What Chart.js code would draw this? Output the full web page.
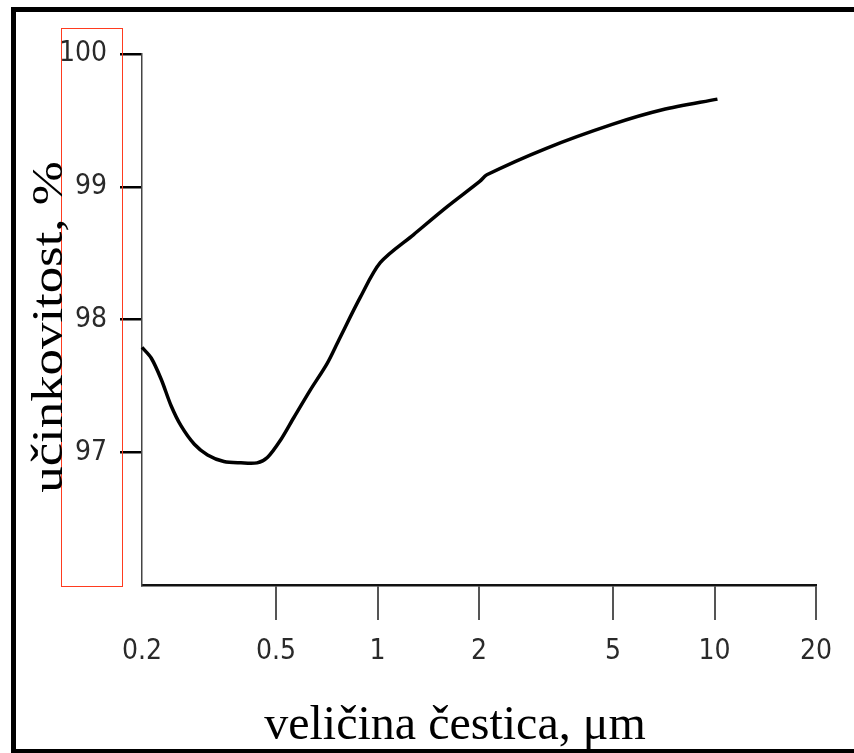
<!DOCTYPE html>
<html>
<head>
<meta charset="utf-8">
<title>učinkovitost, %</title>
<script src="https://cdn.jsdelivr.net/npm/chart.js@4.4.1/dist/chart.umd.min.js"></script>
<style>
  html, body { margin: 0; padding: 0; background: #fff; }
  #wrap { position: relative; width: 854px; height: 753px; overflow: hidden; background: #fff; }
  #chart { position: absolute; left: 0; top: 0; }
  #frame { position: absolute; left: 11px; top: 7px; width: 900px; height: 746px; box-sizing: border-box;
           border: 5px solid #000; border-right: none; border-bottom-width: 4px; pointer-events: none; }
  #redbox { position: absolute; left: 61px; top: 28px; width: 62px; height: 559px; box-sizing: border-box;
            border: 1.5px solid #ff3b1f; pointer-events: none; }
  .title { position: absolute; font-family: "Liberation Serif", "Times New Roman", serif; color: #000;
           line-height: 1; white-space: nowrap; }
  #ytitle { left: 48px; top: 327px; font-size: 44px; transform: translate(-50%, -50%) rotate(-90deg) scaleX(1.2); }
  #xtitle { left: 455px; top: 723px; font-size: 48px; transform: translate(-50%, -50%); }
</style>
</head>
<body>
<div id="wrap">
  <canvas id="chart" width="854" height="753"></canvas>
  <div id="redbox"></div>
  <div id="frame"></div>
  <div class="title" id="ytitle">učinkovitost, %</div>
  <div class="title" id="xtitle">veličina čestica, μm</div>
</div>
<script>
// --- data ---
const sizeTicks = [0.2, 0.5, 1, 2, 5, 10, 20];
const sizeTickLabels = ['0.2', '0.5', '1', '2', '5', '10', '20'];
const effTicks = [97, 98, 99, 100];

// particle size (µm) and efficiency (%) along the curve
const particleSize = [0.2, 0.213, 0.228, 0.244, 0.261, 0.286, 0.313, 0.350, 0.393, 0.439, 0.471, 0.515, 0.564, 0.632, 0.709, 0.769, 0.89, 1.02, 1.28, 1.61, 2.01, 2.11, 3.17, 4.97, 7.0, 10.2];
const efficiency   = [97.79, 97.71, 97.55, 97.35, 97.20, 97.06, 96.98, 96.93, 96.92, 96.92, 96.96, 97.09, 97.26, 97.47, 97.67, 97.85, 98.17, 98.43, 98.64, 98.85, 99.04, 99.09, 99.29, 99.47, 99.58, 99.66];

const tickFont = { family: '"DejaVu Sans Condensed", "Liberation Sans", sans-serif', size: 28 };

const points = particleSize.map((x, i) => ({ x: x, y: efficiency[i] }));

new Chart(document.getElementById('chart').getContext('2d'), {
    type: 'line',
    data: {
        datasets: [{
            data: points,
            borderColor: '#000',
            borderWidth: 3.5,
            pointRadius: 0,
            fill: false,
            tension: 0.3,
            clip: false
        }]
    },
    options: {
        responsive: false,
        animation: false,
        layout: { padding: { left: 0, top: 54, right: 38, bottom: 0 } },
        plugins: { legend: { display: false }, tooltip: { enabled: false } },
        scales: {
            x: {
                type: 'logarithmic',
                min: 0.2, max: 20,
                afterBuildTicks: (s) => { s.ticks = sizeTicks.map(v => ({ value: v })); },
                afterFit: (s) => { s.height = 168; },
                ticks: {
                    autoSkip: false, maxRotation: 0, minRotation: 0, padding: 15,
                    color: '#2a2a2a', font: tickFont,
                    callback: (v, i) => sizeTickLabels[i]
                },
                grid: {
                    drawOnChartArea: false, tickLength: 35, lineWidth: 2,
                    color: (c) => (c.tick && c.tick.value === 0.2) ? 'rgba(0,0,0,0)' : '#555'
                },
                border: { color: '#111', width: 2.5 }
            },
            y: {
                min: 96, max: 100,
                afterBuildTicks: (s) => { s.ticks = effTicks.map(v => ({ value: v })); },
                afterFit: (s) => { s.width = 142; },
                ticks: { padding: 13, color: '#2a2a2a', font: tickFont, callback: (v) => String(v) },
                grid: { drawOnChartArea: false, tickLength: 22, lineWidth: 2.5, color: '#000' },
                border: { color: '#444', width: 1.5 }
            }
        }
    }
});
</script>
</body>
</html>
